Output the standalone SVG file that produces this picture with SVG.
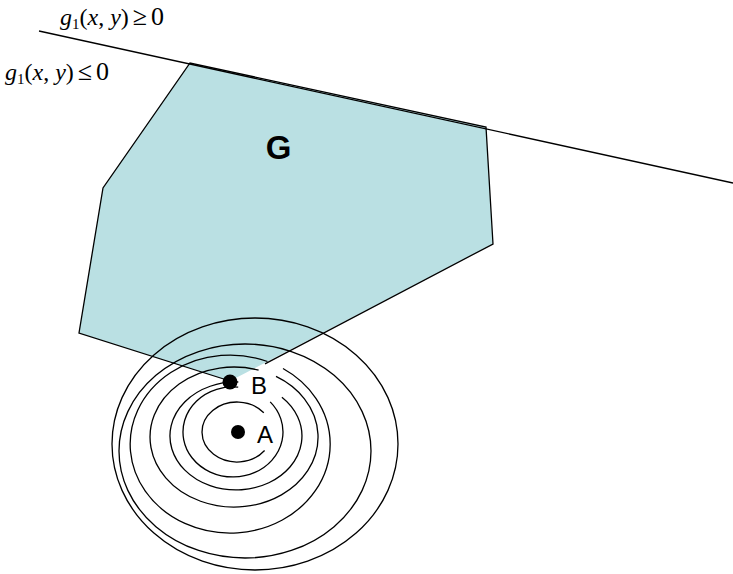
<svg xmlns="http://www.w3.org/2000/svg" width="733" height="574" viewBox="0 0 733 574">
<style>
.ln{fill:none;stroke:#000;stroke-width:1.3}
.math{font-family:"Liberation Serif","Times New Roman",serif;font-size:24px;fill:#000}
.it{font-style:italic}
.rel{font-size:26px}
.lbl{font-family:"Liberation Sans",Arial,sans-serif;fill:#000}
</style>
<rect width="733" height="574" fill="#fff"/>
<g id="region-G">
<polygon points="190,63 486,127 493,244 230,381 79,333 103,188" fill="#BAE0E3"/>
<polyline class="ln" points="265,363.8 493,244 486,127 190,63 103,188 79,333 230,381"/>
<text class="lbl" x="278.5" y="159" font-size="33" font-weight="bold" text-anchor="middle">G</text>
</g>
<g id="constraint-line">
<line class="ln" x1="39" y1="31" x2="733" y2="183"/>
<text class="math" x="60" y="25"><tspan class="it">g</tspan><tspan font-size="15" dy="4">1</tspan><tspan dy="-4">(</tspan><tspan class="it">x</tspan>, <tspan class="it">y</tspan>)<tspan class="rel" dx="4">≥</tspan><tspan class="rel" dx="4">0</tspan></text>
<text class="math" x="5" y="80"><tspan class="it">g</tspan><tspan font-size="15" dy="4">1</tspan><tspan dy="-4">(</tspan><tspan class="it">x</tspan>, <tspan class="it">y</tspan>)<tspan class="rel" dx="4">≤</tspan><tspan class="rel" dx="4">0</tspan></text>
</g>
<g id="contours">
<ellipse class="ln" cx="255" cy="444" rx="143" ry="126"/>
<ellipse class="ln" cx="245" cy="451" rx="126" ry="107"/>
<path class="ln" d="M283,368.5 A100,89 0 1 1 267.5,361.5"/>
<path class="ln" d="M276,376.4 A84,70 0 1 1 258.6,370.1"/>
<path class="ln" d="M281.9,397.2 A66,54 0 1 1 238.3,382"/>
<path class="ln" d="M270.2,401.9 A50,45 0 1 1 238.2,387.2"/>
<path class="ln" d="M264.6,450.5 A35,30 0 1 1 263.8,412.7"/>
</g>
<g id="point-B">
<circle cx="230" cy="382" r="7.5" fill="#000"/>
<text class="lbl" x="251" y="394" font-size="24">B</text>
</g>
<g id="point-A">
<circle cx="238" cy="432" r="7" fill="#000"/>
<text class="lbl" x="257" y="443" font-size="24">A</text>
</g>
</svg>
